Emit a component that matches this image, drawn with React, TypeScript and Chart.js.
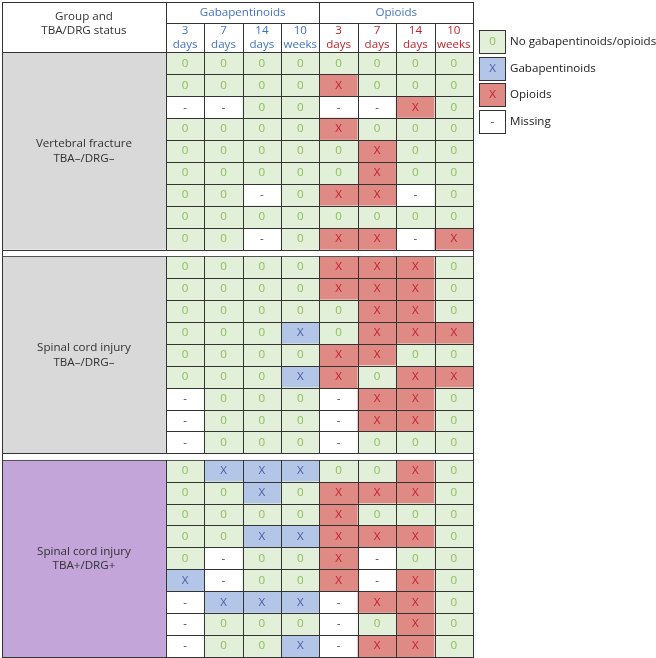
import React, { useEffect, useRef } from "react";
import { Chart, registerables } from "chart.js";

Chart.register(...registerables);

// ---------- data ----------
const drugClasses = ["Gabapentinoids", "Opioids"];
const timepoints = [
  ["3", "days"],
  ["7", "days"],
  ["14", "days"],
  ["10", "weeks"],
];
const groupHeader = ["Group and", "TBA/DRG status"];
const groupNames = [
  ["Vertebral fracture", "TBA–/DRG–"],
  ["Spinal cord injury", "TBA–/DRG–"],
  ["Spinal cord injury", "TBA+/DRG+"],
];
// each row: 4 gabapentinoid time points then 4 opioid time points
// "0" = none, "X" = exposed, "-" = missing
const vertebralFracture = [
  "00000000",
  "0000X000",
  "--00--X0",
  "0000X000",
  "00000X00",
  "00000X00",
  "00-0XX-0",
  "00000000",
  "00-0XX-X",
];
const sciNegative = [
  "0000XXX0",
  "0000XXX0",
  "00000XX0",
  "000X0XXX",
  "0000XX00",
  "000XX0XX",
  "-000-XX0",
  "-000-XX0",
  "-000-000",
];
const sciPositive = [
  "0XXX00X0",
  "00X0XXX0",
  "0000X000",
  "00XXXXX0",
  "0-00X-00",
  "X-00X-X0",
  "-XXX-XX0",
  "-000-0X0",
  "-00X-XX0",
];
const legendLabels = ["No gabapentinoids/opioids", "Gabapentinoids", "Opioids", "Missing"];
const legendSymbols = ["0", "X", "X", "-"];

const groups = [vertebralFracture, sciNegative, sciPositive];

// ---------- styles / layout ----------
const cellFill = ["#e2efd9", "#b4c6e7", "#e08a85", "#ffffff"];
const cellText = ["#8fbd5b", "#4a5ca6", "#c0222a", "#444444"];
const groupFill = ["#d9d9d9", "#d9d9d9", "#c3a5d9"];
const classColor = ["#4472c4", "#4472c4"];
const timeColor = ["#4472c4", "#c0222a"];
const FONT = '"Open Sans", "DejaVu Sans", sans-serif';
const FS = 11.6;

const GAP = 0.29;
const HEADER_TOP = -2.3;
const HEADER_SPLIT = -1.35;
const GROUP_COL = 4.27;
const NCOLS = 8;

const groupStart = (g: number) => {
  let s = 0;
  for (let i = 0; i < g; i++) s += groups[i].length + GAP;
  return s;
};
const tableBottom = groupStart(groups.length - 1) + groups[groups.length - 1].length;

const categoryOf = (ch: string, col: number) =>
  ch === "-" ? 3 : ch === "X" ? (col < 4 ? 1 : 2) : 0;

function buildDatasets() {
  const data: { x: number; y: [number, number] }[][] = [[], [], [], []];
  groups.forEach((rows, g) => {
    const top = groupStart(g);
    rows.forEach((row, r) => {
      row.split("").forEach((ch, c) => {
        data[categoryOf(ch, c)].push({ x: c + 0.5, y: [top + r, top + r + 1] });
      });
    });
  });
  return legendLabels.map((label, i) => ({
    label,
    data: data[i],
    backgroundColor: cellFill[i],
    borderWidth: 0,
    grouped: false,
    barPercentage: 1,
    categoryPercentage: 1,
  }));
}

const tablePlugin = {
  id: "tableDecor",
  afterDatasetsDraw(chart: any) {
    const { ctx, chartArea } = chart;
    const xs = chart.scales.x;
    const ys = chart.scales.y;
    const X = (v: number) => xs.getPixelForValue(v);
    const Y = (v: number) => ys.getPixelForValue(v);
    const P = (v: number) => Math.round(v) + 0.5;
    ctx.save();

    // group label cells
    groups.forEach((rows, g) => {
      const top = groupStart(g);
      const bottom = top + rows.length;
      ctx.fillStyle = groupFill[g];
      ctx.fillRect(X(-GROUP_COL), Y(top), X(0) - X(-GROUP_COL), Y(bottom) - Y(top));
    });
    // gaps between groups
    for (let g = 1; g < groups.length; g++) {
      const a = groupStart(g - 1) + groups[g - 1].length;
      const b = groupStart(g);
      ctx.fillStyle = "#ffffff";
      ctx.fillRect(X(-GROUP_COL), Y(a), X(NCOLS) - X(-GROUP_COL), Y(b) - Y(a));
    }

    // cell texts
    ctx.textAlign = "center";
    ctx.textBaseline = "middle";
    ctx.font = `${FS}px ${FONT}`;
    groups.forEach((rows, g) => {
      const top = groupStart(g);
      rows.forEach((row, r) => {
        row.split("").forEach((ch, c) => {
          const k = categoryOf(ch, c);
          ctx.fillStyle = cellText[k];
          ctx.fillText(ch, X(c + 0.5), Y(top + r + 0.5));
        });
      });
    });

    // lines
    ctx.lineWidth = 1;
    ctx.lineCap = "square";
    const seg = (x0: number, y0: number, x1: number, y1: number, color = "#333333") => {
      ctx.strokeStyle = color;
      ctx.beginPath();
      ctx.moveTo(P(X(x0)), P(Y(y0)));
      ctx.lineTo(P(X(x1)), P(Y(y1)));
      ctx.stroke();
    };
    // header
    seg(-GROUP_COL, HEADER_TOP, NCOLS, HEADER_TOP);
    seg(0, HEADER_SPLIT, NCOLS, HEADER_SPLIT);
    seg(-GROUP_COL, 0, NCOLS, 0);
    seg(0, HEADER_TOP, 0, 0);
    seg(4, HEADER_TOP, 4, 0);
    for (let c = 1; c < NCOLS; c++) if (c !== 4) seg(c, HEADER_SPLIT, c, 0);
    // groups
    groups.forEach((rows, g) => {
      const top = groupStart(g);
      const bottom = top + rows.length;
      seg(-GROUP_COL, top, NCOLS, top, g > 0 ? "#555555" : "#333333");
      seg(-GROUP_COL, bottom, NCOLS, bottom);
      for (let r = 1; r < rows.length; r++) seg(0, top + r, NCOLS, top + r);
      for (let c = 0; c < NCOLS; c++) seg(c, top, c, bottom);
    });
    // outer border
    seg(-GROUP_COL, HEADER_TOP, -GROUP_COL, tableBottom);
    seg(NCOLS, HEADER_TOP, NCOLS, tableBottom);

    // header texts
    ctx.font = `${FS}px ${FONT}`;
    ctx.fillStyle = "#333333";
    const hx = X(-GROUP_COL / 2);
    const hy = (Y(HEADER_TOP) + Y(0)) / 2 - 4;
    ctx.fillText(groupHeader[0], hx, hy - 7);
    ctx.fillText(groupHeader[1], hx, hy + 7);
    drugClasses.forEach((name, i) => {
      ctx.fillStyle = classColor[i];
      ctx.fillText(name, X(i * 4 + 2), (Y(HEADER_TOP) + Y(HEADER_SPLIT)) / 2 + 0.5);
      timepoints.forEach((tp, j) => {
        ctx.fillStyle = timeColor[i];
        const cx = X(i * 4 + j + 0.5);
        const cy = (Y(HEADER_SPLIT) + Y(0)) / 2;
        ctx.fillText(tp[0], cx, cy - 7);
        ctx.fillText(tp[1], cx, cy + 7);
      });
    });
    // group names
    groups.forEach((rows, g) => {
      const mid = (Y(groupStart(g)) + Y(groupStart(g) + rows.length)) / 2;
      ctx.fillStyle = "#333333";
      ctx.fillText(groupNames[g][0], hx, mid - 7);
      ctx.fillText(groupNames[g][1], hx, mid + 7.5);
    });

    // legend
    const lx = chartArea.right + 6;
    const ly0 = 30;
    const step = 26.7;
    const bw = 26;
    const bh = 23;
    legendLabels.forEach((label, i) => {
      const by = Math.round(ly0 + i * step);
      ctx.fillStyle = cellFill[i];
      ctx.fillRect(lx, by, bw, bh);
      ctx.strokeStyle = "#333333";
      ctx.strokeRect(lx + 0.5, by + 0.5, bw, bh);
      ctx.textAlign = "center";
      ctx.fillStyle = cellText[i];
      ctx.fillText(legendSymbols[i], lx + bw / 2 + 0.5, by + bh / 2 + 0.5);
      ctx.textAlign = "left";
      ctx.fillStyle = "#222222";
      ctx.fillText(label, lx + bw + 5, by + bh / 2 + 0.5);
    });
    ctx.restore();
  },
};

export default function App() {
  const ref = useRef<HTMLCanvasElement | null>(null);
  useEffect(() => {
    if (!ref.current) return;
    const chart = new Chart(ref.current, {
      type: "bar",
      data: { datasets: buildDatasets() as any },
      options: {
        animation: false,
        responsive: false,
        layout: { padding: { left: 2, top: 2, right: 183, bottom: 1 } },
        plugins: { legend: { display: false }, tooltip: { enabled: false } },
        scales: {
          x: {
            type: "linear",
            min: -GROUP_COL,
            max: NCOLS,
            offset: false,
            display: false,
            ticks: { stepSize: 1, includeBounds: false },
            grid: { offset: false },
          },
          y: {
            type: "linear",
            min: HEADER_TOP,
            max: tableBottom,
            reverse: true,
            display: false,
          },
        },
      },
      plugins: [tablePlugin],
    });
    return () => chart.destroy();
  }, []);
  return (
    <div style={{ position: "fixed", left: 0, top: 0, width: 656, height: 658, background: "#ffffff" }}>
      <canvas ref={ref} width={656} height={658} style={{ display: "block" }} />
    </div>
  );
}
